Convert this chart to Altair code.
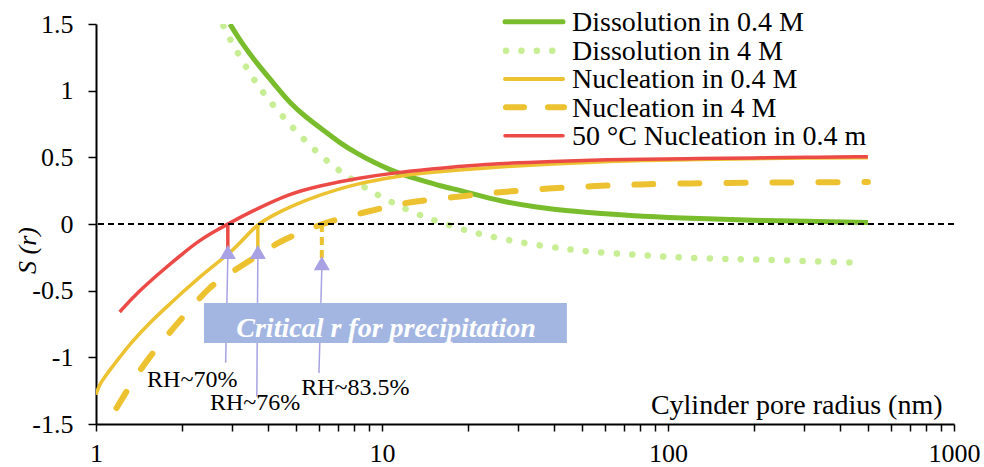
import altair as alt
import pandas as pd

# ---------------- data ----------------
series_names = ["Dissolution in 0.4 M", "Dissolution in 4 M", "Nucleation in 0.4 M",
                "Nucleation in 4 M", "50 \u00b0C Nucleation in 0.4 m"]

diss04_r = [2.94, 3.2, 3.65, 4.2, 4.77, 5.5, 6.23, 7.1, 8.16, 9.4, 10.7, 12, 13.6, 16, 19.8,
            25.9, 35, 45, 57.8, 80, 129, 200, 300, 500]
diss04_s = [1.5, 1.37, 1.205, 1.05, 0.905, 0.79, 0.705, 0.61, 0.53, 0.46, 0.405, 0.365, 0.33,
            0.285, 0.24, 0.17, 0.125, 0.098, 0.08, 0.058, 0.04, 0.028, 0.02, 0.012]

diss4_r = [2.79, 3.0, 3.34, 3.7, 4.15, 4.7, 5.35, 6.2, 7.1, 8.3, 9.8, 11, 12.3, 14, 15.5, 17.5,
           19.8, 22, 25.2, 30, 36.6, 45, 53.4, 70, 88.4, 127, 180, 239, 330, 460]
diss4_s = [1.485, 1.35, 1.18, 1.03, 0.893, 0.76, 0.63, 0.5, 0.398, 0.30, 0.21, 0.155, 0.105,
           0.055, 0.0225, -0.015, -0.05, -0.075, -0.103, -0.135, -0.165, -0.19, -0.208, -0.225,
           -0.24, -0.257, -0.265, -0.27, -0.28, -0.29]

nuc04_r = [1.0, 1.03, 1.15, 1.35, 1.55, 1.77, 2.0, 2.31, 2.65, 3.02, 3.35, 3.68, 4.2, 4.77, 6,
           8.16, 11.6, 13.6, 20, 25.9, 40, 57.8, 80, 129, 200, 300, 500]
nuc04_s = [-1.28, -1.195, -1.06, -0.87, -0.735, -0.62, -0.515, -0.395, -0.292, -0.195, -0.092,
           0.0, 0.07, 0.13, 0.215, 0.305, 0.36, 0.38, 0.41, 0.43, 0.45, 0.467, 0.475, 0.485,
           0.49, 0.495, 0.497]

nuc4_r = [1.18, 1.35, 1.54, 1.75, 1.97, 2.2, 2.5, 2.85, 3.19, 3.7, 4.4, 5.3, 6.16, 7.2, 8.84,
          10.5, 12.5, 18.5, 26.5, 38.2, 55.6, 79.8, 116, 200, 300, 500]
nuc4_s = [-1.38, -1.17, -0.995, -0.852, -0.72, -0.605, -0.47, -0.389, -0.32, -0.232, -0.13,
          -0.055, 0.0, 0.042, 0.092, 0.13, 0.167, 0.205, 0.242, 0.267, 0.285, 0.298, 0.305,
          0.31, 0.313, 0.315]

nuc50_r = [1.21, 1.4, 1.77, 2.0, 2.31, 2.6, 2.89, 3.5, 4.77, 6, 8.16, 11.6, 16, 25.9, 40, 57.8,
           80, 129, 200, 300, 500]
nuc50_s = [-0.66, -0.51, -0.32, -0.225, -0.12, -0.055, 0.0, 0.095, 0.23, 0.285, 0.343, 0.39,
           0.42, 0.455, 0.47, 0.48, 0.487, 0.49, 0.495, 0.5, 0.505]

crit_r = [2.89, 3.68, 6.16]
crit_low = [-0.18, -0.18, -0.26]
tri_s = [-0.21, -0.21, -0.295]
arrow_top_s = [-0.25, -0.25, -0.335]
arrow_bot_r = [2.84, 3.65, 6.02]
arrow_bot_s = [-1.04, -1.295, -1.118]

rh_labels = ["RH~70%", "RH~76%", "RH~83.5%"]
rh_r = [2.17, 3.6, 8.07]
rh_s = [-1.2225, -1.395, -1.2825]

box_r = [2.386, 44.3]
box_s = [-0.5925, -0.8925]
box_text = "Critical r for precipitation"
box_text_r = 10.33
box_text_s = -0.845

x_major = [1, 10, 100, 1000]
x_ticks = [1, 2, 3, 4, 5, 6, 7, 8, 9, 10, 20, 30, 40, 50, 60, 70, 80, 90,
           100, 200, 300, 400, 500, 600, 700, 800, 900, 1000]
y_ticks = [-1.5, -1, -0.5, 0, 0.5, 1, 1.5]

# ---------------- styles ----------------
FONT = "Liberation Serif"
C_GREEN = "#79BC2C"
C_LGREEN = "#C8EE95"
C_YELLOW = "#ECC230"
C_RED = "#EC4A46"
C_LAV = "#A8A2E4"
C_BOX = "#A3B6E2"

W, H = 858, 400

xscale = alt.Scale(type="log", domain=[1, 1000], nice=False)
yscale = alt.Scale(domain=[-1.5, 1.5], nice=False, zero=False)

major_expr = "||".join([f"datum.value=={v}" for v in x_major])
xaxis = alt.Axis(values=x_ticks, labelExpr=f"({major_expr}) ? toString(datum.value) : ''",
                 title="Cylinder pore radius (nm)", titleX=846, titleY=-11,
                 titleAlign="right", titleBaseline="alphabetic", titleAnchor="end",
                 titleFontSize=28, titleFontWeight="normal", titleColor="black",
                 labelFontSize=26, labelColor="black", labelPadding=9,
                 labelOverlap=False, labelFlush=False, tickSize=7, tickWidth=1.5,
                 tickColor="black", domainColor="black", domainWidth=2, grid=False)
yaxis = alt.Axis(values=y_ticks, labelExpr="toString(datum.value)",
                 title="S (r)", titleX=-69, titleY=226, titleAngle=270,
                 titleAlign="center", titleBaseline="middle", titleFontStyle="italic",
                 titleFontSize=26, titleFontWeight="normal", titleColor="black",
                 labelFontSize=26, labelColor="black", labelPadding=15,
                 labelOverlap=False, labelFlush=False, tickSize=8, tickWidth=1.5,
                 tickColor="black", domainColor="black", domainWidth=2, grid=False)


def X(f="r"):
    return alt.X(f"{f}:Q", scale=xscale, axis=xaxis)


def Y(f="S"):
    return alt.Y(f"{f}:Q", scale=yscale, axis=yaxis)


def curve(rs, ss, color, width, dash=None, cap="butt"):
    df = pd.DataFrame({"r": rs, "S": ss})
    kw = dict(color=color, strokeWidth=width, interpolate="basis", strokeCap=cap, clip=True)
    if dash:
        kw["strokeDash"] = dash
    return alt.Chart(df).mark_line(**kw).encode(x=X(), y=Y(), order=alt.Order("r:Q"))


layers = []
layers.append(curve(diss04_r, diss04_s, C_GREEN, 5))
layers.append(curve(diss4_r, diss4_s, C_LGREEN, 6.5, dash=[0.1, 15.4], cap="round"))
layers.append(curve(nuc04_r, nuc04_s, C_YELLOW, 3.5))
layers.append(curve(nuc4_r, nuc4_s, C_YELLOW, 6, dash=[19, 27], cap="round"))
layers.append(curve(nuc50_r, nuc50_s, C_RED, 3.5))

# critical r markers
crit_styles = [(C_RED, 3.5, None), (C_YELLOW, 3.5, None), (C_YELLOW, 4, [8, 5])]
for i, (col, wd, dash) in enumerate(crit_styles):
    df = pd.DataFrame({"r": [crit_r[i]], "S": [0.0], "S2": [crit_low[i]]})
    kw = dict(color=col, strokeWidth=wd)
    if dash:
        kw["strokeDash"] = dash
    layers.append(alt.Chart(df).mark_rule(**kw).encode(x=X(), y=Y(), y2="S2:Q"))

# arrow stems
arr_df = pd.DataFrame({"r": crit_r, "S": arrow_top_s, "r2": arrow_bot_r, "S2": arrow_bot_s})
layers.append(alt.Chart(arr_df).mark_rule(color=C_LAV, strokeWidth=1.5).encode(
    x=X(), y=Y(), x2="r2:Q", y2="S2:Q"))
# arrow heads
tri_df = pd.DataFrame({"r": crit_r, "S": tri_s})
layers.append(alt.Chart(tri_df).mark_point(shape="triangle-up", filled=True, color=C_LAV,
                                           opacity=1, size=260).encode(x=X(), y=Y()))

# box
box_df = pd.DataFrame({"r": [box_r[0]], "r2": [box_r[1]], "S": [box_s[0]], "S2": [box_s[1]]})
layers.append(alt.Chart(box_df).mark_rect(color=C_BOX, opacity=1).encode(
    x=X(), x2="r2:Q", y=Y(), y2="S2:Q"))
bt_df = pd.DataFrame({"r": [box_text_r], "S": [box_text_s], "t": [box_text]})
layers.append(alt.Chart(bt_df).mark_text(fontSize=28, fontStyle="italic",
                                         fontWeight="bold", color="white", align="center",
                                         baseline="alphabetic").encode(
    x=X(), y=Y(), text="t:N"))

# RH labels
rh_df = pd.DataFrame({"r": rh_r, "S": rh_s, "t": rh_labels})
layers.append(alt.Chart(rh_df).mark_text(fontSize=24, color="black",
                                         align="center", baseline="alphabetic").encode(
    x=X(), y=Y(), text="t:N"))

# zero reference line
layers.append(alt.Chart(pd.DataFrame({"S": [0.0]})).mark_rule(
    color="black", strokeWidth=2, strokeDash=[6, 4]).encode(y=Y()))

# ---------------- legend (manual) ----------------
leg_line_y = [-2.3, 26.7, 55, 83.3, 111.7]
leg_text_y = [7, 35.5, 64, 92.5, 121]
leg_styles = [
    dict(color=C_GREEN, strokeWidth=5, strokeCap="round", x0=409, x1=467),
    dict(color=C_LGREEN, strokeWidth=6.5, strokeCap="round", strokeDash=[0.1, 15.3], x0=410, x1=457),
    dict(color=C_YELLOW, strokeWidth=4, strokeCap="round", x0=409, x1=467),
    dict(color=C_YELLOW, strokeWidth=6, strokeCap="round", strokeDash=[18, 24], x0=410, x1=468),
    dict(color=C_RED, strokeWidth=3.5, strokeCap="round", x0=409, x1=467),
]
leg_base = alt.Chart(pd.DataFrame({"k": [0]}))
for i, name in enumerate(series_names):
    st = dict(leg_styles[i])
    x0 = st.pop("x0")
    x1 = st.pop("x1")
    layers.append(leg_base.mark_rule(clip=False, **st).encode(
        x=alt.value(x0), x2=alt.value(x1), y=alt.value(leg_line_y[i])))
    layers.append(leg_base.mark_text(fontSize=28, color="black", align="left",
                                     baseline="alphabetic", text=name).encode(
        x=alt.value(476), y=alt.value(leg_text_y[i])))

chart = alt.layer(*layers).properties(
    width=W, height=H,
    autosize=alt.AutoSizeParams(type="none"),
    padding={"left": 96, "top": 24, "right": 30, "bottom": 43},
    background="white",
).configure(font=FONT).configure_view(stroke=None)

chart.save("out.html", embed_options={"renderer": "svg", "actions": False})
